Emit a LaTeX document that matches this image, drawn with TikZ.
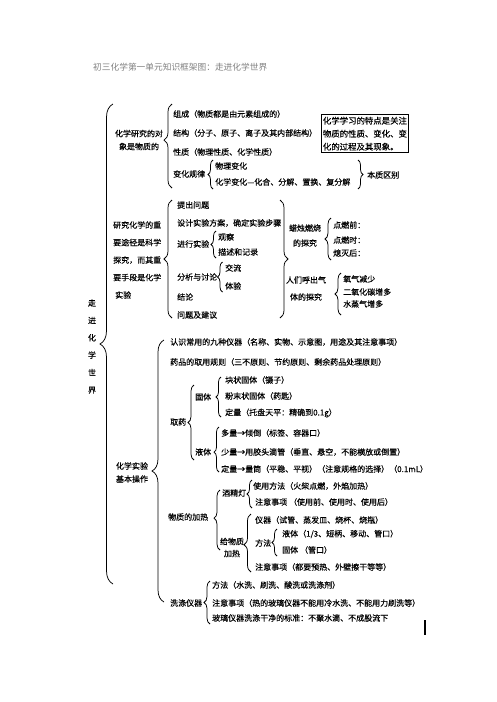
\documentclass[tikz,border=0pt]{standalone}
\usepackage{fontspec}
\setmainfont{Noto Sans CJK SC}[FakeBold=0.35]
\newfontfamily\titlefont{Noto Sans CJK SC}
\usepackage{tikz}
\usetikzlibrary{decorations.pathreplacing}

\begin{document}
\begin{tikzpicture}[
    x=1pt, y=-1pt,
    txt/.style={anchor=west, inner sep=0pt, font=\fontsize{8}{13}\selectfont},
    blk/.style={inner sep=0pt, align=center, font=\fontsize{8}{13}\selectfont},
    brc/.style={decorate, decoration={brace, amplitude=#1}, line width=0.75pt},
    brc/.default=5pt,
    notebox/.style={draw, line width=0.9pt, anchor=north west, inner xsep=1.5pt, inner ysep=2.3pt, align=left, font=\fontsize{8.4}{13}\selectfont}
]
    \useasboundingbox (0,0) rectangle (496,702);

    % Title
    \node[txt, text=gray, font=\titlefont\fontsize{8.7}{10}\selectfont] (title) at (93,67) {初三化学第一单元知识框架图：走进化学世界};

    % Root
    \node[blk, font=\fontsize{8}{17.4}\selectfont] (world) at (92,346.5) {走\\进\\化\\学\\世\\界};
    \draw[brc=13pt] (113,584) -- (113,104);

    % Object of study
    \node[blk] (object) at (139,140) {化学研究的对\\象是物质的};
    \draw[brc=8pt, decoration={aspect=0.57}] (172,188) -- (172,104);
    \node[txt] (comp) at (173,114) {组成（物质都是由元素组成的）};
    \node[txt] (struct) at (173,133) {结构（分子、原子、离子及其内部结构）};
    \node[txt] (prop) at (173,152) {性质（物理性质、化学性质）};
    \node[txt] (change) at (173,174) {变化规律};
    \draw[brc] (213,189) -- (213,160);
    \node[txt] (phys) at (215,166) {物理变化};
    \node[txt] (chem) at (215,182) {化学变化—化合、分解、置换、复分解};
    \draw[brc] (358,160) -- (358,189);
    \node[txt] (essence) at (367,175) {本质区别};
    \node[notebox] (note) at (321,114) {化学学习的特点是关注\\物质的性质、变化、变\\化的过程及其现象。};

    % Scientific inquiry
    \node[txt, align=left, font=\fontsize{8}{17.5}\selectfont] (inquiry) at (113,260) {研究化学的重\\要途径是科学\\探究，而其重\\要手段是化学\\\hspace{2pt}实验};
    \draw[brc=8pt] (172,318) -- (172,200);
    \node[txt] (ask) at (177,205) {提出问题};
    \node[txt] (design) at (177,223) {设计实验方案，确定实验步骤};
    \node[txt] (run) at (177,244) {进行实验};
    \draw[brc] (216,258) -- (216,231);
    \node[txt] (observe) at (218,237) {观察};
    \node[txt] (record) at (218,252) {描述和记录};
    \node[txt] (discuss) at (177,277) {分析与讨论};
    \draw[brc] (222.5,292) -- (222.5,262);
    \node[txt] (share) at (225,268) {交流};
    \node[txt] (feel) at (225,286) {体验};
    \node[txt] (concl) at (177,297) {结论};
    \node[txt] (advice) at (177,315) {问题及建议};
    \draw[brc=8pt] (280,200) -- (280,318);

    % Two inquiries
    \node[blk, font=\fontsize{8}{15}\selectfont] (candle) at (305,235.5) {蜡烛燃烧\\的探究};
    \draw[brc=6pt] (331,260) -- (331,218);
    \node[txt] (before) at (333,225) {点燃前：};
    \node[txt] (during) at (333,240) {点燃时：};
    \node[txt] (after) at (333,253) {熄灭后：};
    \node[blk, font=\fontsize{8}{17}\selectfont] (breath) at (306,288.5) {人们呼出气\\体的探究};
    \draw[brc=6pt] (341,315) -- (341,273);
    \node[txt] (oxygen) at (343,279) {氧气减少};
    \node[txt] (carbon) at (343,292) {二氧化碳增多};
    \node[txt] (vapour) at (343,304) {水蒸气增多};

    % Basic operations
    \node[blk] (oper) at (132,472.5) {化学实验\\基本操作};
    \draw[brc=12pt] (164,602) -- (164,340);
    \node[txt] (nine) at (170,342) {认识常用的九种仪器（名称、实物、示意图，用途及其注意事项）};
    \node[txt] (rules) at (170,362) {药品的取用规则（三不原则、节约原则、剩余药品处理原则）};

    % Taking reagents
    \node[txt] (take) at (170,422) {取药};
    \draw[brc=6pt] (194,460) -- (194,385);
    \node[txt] (solid) at (195,397) {固体};
    \draw[brc] (221,417) -- (221,377);
    \node[txt] (lump) at (225,380) {块状固体（镊子）};
    \node[txt] (powder) at (225,396) {粉末状固体（药匙）};
    \node[txt] (weigh) at (225,413) {定量（托盘天平：精确到0.1g）};
    \node[txt] (liquid) at (195,452) {液体};
    \draw[brc, decoration={aspect=0.44}] (219,472) -- (219,427);
    \node[txt] (much) at (221,433) {多量→倾倒（标签、容器口）};
    \node[txt] (little) at (221,452) {少量→用胶头滴管（垂直、悬空，不能横放或倒置）};
    \node[txt] (measure) at (221,469) {定量→量筒（平稳、平视）（注意规格的选择）（0.1mL）};

    % Heating
    \node[txt] (heat) at (168,517) {物质的加热};
    \draw[brc=6pt, decoration={aspect=0.53}] (220,550) -- (220,490);
    \node[txt] (lamp) at (222,493) {酒精灯};
    \draw[brc] (252,508) -- (252,480);
    \node[txt] (usage) at (253,486) {使用方法（火柴点燃，外焰加热）};
    \node[txt] (lampnote) at (255,502) {注意事项 （使用前、使用时、使用后）};
    \node[blk, font=\fontsize{8}{12}\selectfont] (give) at (232,547.5) {给物质\\加热};
    \draw[brc=7pt, decoration={aspect=0.47}] (251,572) -- (251,514);
    \node[txt] (vessel) at (255,520) {仪器（试管、蒸发皿、烧杯、烧瓶）};
    \node[txt] (method) at (255,543) {方法};
    \draw[brc] (277,556) -- (277,529);
    \node[txt] (liqheat) at (282,534) {液体（1/3、短柄、移动、管口）};
    \node[txt] (solheat) at (282,550) {固体 （管口）};
    \node[txt] (heatnote) at (255,567) {注意事项（都要预热、外壁擦干等等）};

    % Washing
    \node[txt] (wash) at (170,603) {洗涤仪器};
    \draw[brc=6pt] (210,624) -- (210,581);
    \node[txt] (washway) at (212,585) {方法（水洗、刷洗、酸洗或洗涤剂）};
    \node[txt] (washnote) at (212,603) {注意事项（热的玻璃仪器不能用冷水洗、不能用力刷洗等）};
    \node[txt] (clean) at (212,618) {玻璃仪器洗涤干净的标准：不聚水滴、不成股流下};
    \draw[line width=1.2pt] (425,620) -- (425,635);
\end{tikzpicture}
\end{document}
